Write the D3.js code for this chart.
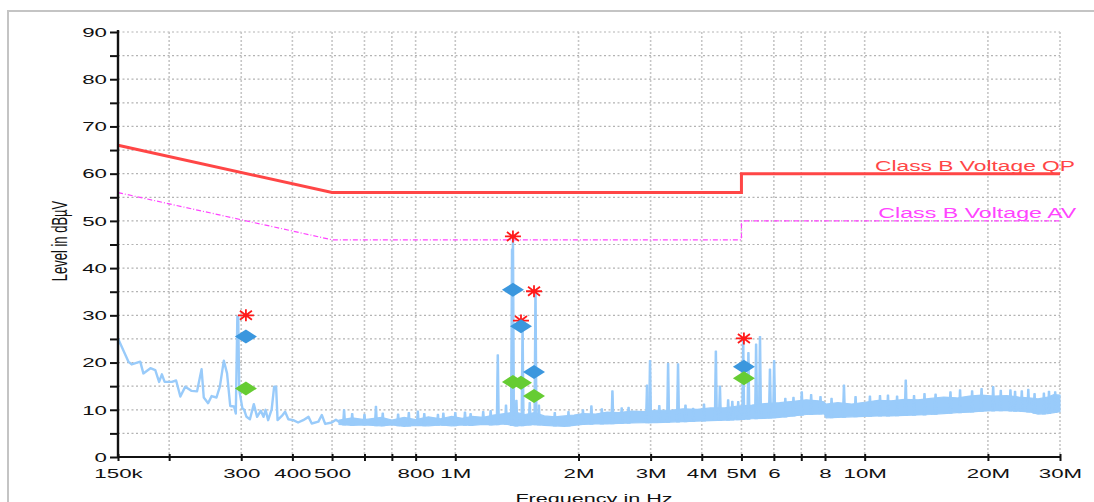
<!DOCTYPE html>
<html>
<head>
<meta charset="utf-8">
<script src="https://cdn.jsdelivr.net/npm/d3@7/dist/d3.min.js"></script>
<style>
  html, body { margin: 0; padding: 0; background: #fff; }
  svg { display: block; font-family: "Liberation Sans", Arial, sans-serif; }
</style>
</head>
<body>
<svg id="chart" width="1094" height="502"></svg>
<script>
// frequencies in MHz, levels in dBuV

// axis ticks
var xTicks = [0.15, 0.2, 0.3, 0.4, 0.5, 0.6, 0.7, 0.8, 1, 2, 3, 4, 5, 6, 7, 8, 10, 20, 30];
var xTickLabels = ['150k', '', '300', '400', '500', '', '', '800', '1M', '2M', '3M', '4M', '5M', '6', '', '8', '10M', '20M', '30M'];
var yTicks = [0, 5, 10, 15, 20, 25, 30, 35, 40, 45, 50, 55, 60, 65, 70, 75, 80, 85, 90];
var yTickLabels = [0, 10, 20, 30, 40, 50, 60, 70, 80, 90];

// limit lines
var qpLimitFreq = [0.15, 0.5, 5, 5, 30];
var qpLimitLevel = [66, 56, 56, 60, 60];
var avLimitFreq = [0.15, 0.5, 5, 5, 30];
var avLimitLevel = [56, 46, 46, 50, 50];

// measured trace below 500k
var lowFreq = [0.150, 0.159, 0.162, 0.170, 0.173, 0.180, 0.185, 0.189, 0.192, 0.195, 0.203, 0.208,
  0.213, 0.219, 0.227, 0.234, 0.240, 0.243, 0.249, 0.254, 0.261, 0.266, 0.272, 0.277, 0.282, 0.288,
  0.291, 0.2935, 0.2950, 0.2966, 0.302, 0.305, 0.309, 0.315, 0.322, 0.328, 0.335, 0.340, 0.344,
  0.349, 0.356, 0.361, 0.365, 0.368, 0.377, 0.384, 0.391, 0.402, 0.413, 0.425, 0.438, 0.446,
  0.463, 0.472, 0.481, 0.499, 0.511, 0.523];
var lowLevel = [25.1, 20.2, 19.6, 20.2, 17.7, 18.8, 18.4, 15.9, 17.5, 15.9, 15.9, 16.2,
  12.8, 14.9, 14.0, 13.9, 18.6, 12.6, 11.4, 12.9, 12.6, 14.9, 20.4, 17.7, 10.8, 10.7,
  9.2, 29.7, 29.6, 14.2, 10.3, 10.0, 8.5, 8.0, 11.2, 8.5, 9.8, 8.5, 10.0,
  7.8, 10.1, 14.9, 14.9, 7.8, 8.7, 9.6, 8.0, 7.8, 7.3, 7.8, 8.5, 7.1,
  7.5, 8.9, 7.0, 7.3, 7.9, 7.3];

// dense noise floor above 500k: lower and upper envelope
var bandFreq = [0.52, 0.56, 0.60, 0.66, 0.70, 0.75, 0.80, 0.86, 0.92, 0.98, 1.04, 1.10, 1.17, 1.24,
  1.32, 1.40, 1.48, 1.56, 1.65, 1.75, 1.85, 1.95, 2.05, 2.20, 2.35, 2.50, 2.70, 2.90, 3.10, 3.35,
  3.60, 3.90, 4.20, 4.55, 4.90, 5.30, 5.70, 6.20, 6.70, 7.20, 7.70, 7.95, 8.05, 8.60, 9.30, 10.0,
  10.8, 11.6, 12.5, 13.5, 14.5, 15.6, 16.8, 18.0, 19.3, 20.7, 22.2, 23.8, 25.5, 26.5, 28.0, 29.0, 30.0];
var bandLow = [6.9, 6.7, 6.8, 6.6, 6.8, 6.5, 6.7, 6.6, 6.8, 6.6, 6.8, 6.7, 6.9, 6.8,
  7.0, 6.6, 6.7, 6.9, 6.7, 6.6, 6.5, 6.7, 6.9, 7.0, 7.0, 7.1, 7.2, 7.3, 7.3, 7.4,
  7.5, 7.6, 7.7, 7.8, 7.9, 8.1, 8.2, 8.4, 8.7, 9.0, 9.1, 9.2, 8.3, 8.4, 8.5, 8.6,
  8.7, 8.7, 8.8, 8.9, 9.0, 9.2, 9.4, 9.5, 9.7, 9.8, 9.8, 9.7, 9.5, 9.1, 9.2, 9.4, 9.6];
var bandHigh = [7.8, 8.3, 7.9, 8.4, 7.8, 8.4, 7.9, 8.5, 8.1, 8.6, 8.2, 8.6, 8.4, 8.9,
  9.2, 9.5, 9.0, 9.4, 8.7, 8.5, 8.7, 8.9, 9.2, 9.1, 9.5, 9.4, 9.7, 9.6, 9.9, 9.9,
  10.2, 10.1, 10.4, 10.4, 10.8, 11.0, 11.3, 11.5, 11.8, 12.1, 11.9, 11.7, 11.2, 11.5, 11.2, 11.6,
  12.0, 11.9, 12.2, 12.1, 12.4, 12.7, 12.5, 12.9, 13.1, 12.9, 13.0, 12.7, 12.5, 12.3, 12.7, 13.2, 13.1];

// narrow peaks sticking out of the noise floor
var spikeFreq = [0.535, 0.56, 0.60, 0.64, 0.665, 0.725, 0.77, 0.81, 0.84, 0.907, 0.935, 1.0, 1.056,
  1.09, 1.17, 1.22, 1.27, 1.33, 1.376, 1.383, 1.41, 1.46, 1.52, 1.57, 1.60,
  1.75, 1.89, 2.05, 2.15, 2.28, 2.42, 2.55, 2.65, 2.94, 2.99, 3.15, 3.31, 3.50, 3.65, 3.81, 4.05,
  4.33, 4.43, 4.64, 4.75, 4.91, 5.05, 5.20, 5.43, 5.55, 5.87, 6.01, 6.40, 6.70, 7.02, 7.40, 7.80,
  8.30, 8.90, 9.50, 10.3, 10.9, 11.4, 12.0, 12.6, 13.2, 14.0, 14.9, 16.2, 17.1, 18.3, 19.3, 20.6,
  21.5, 22.7, 23.3, 24.2, 25.1, 26.0, 27.4, 28.2, 29.2];
var spikeLevel = [10.0, 9.2, 9.0, 10.7, 9.3, 9.1, 9.4, 9.7, 9.2, 9.0, 9.3, 9.4, 9.5,
  9.2, 9.6, 9.8, 21.6, 11.0, 44.0, 46.6, 12.0, 27.5, 11.5, 35.0, 11.0,
  9.4, 9.6, 10.0, 10.8, 10.2, 14.0, 10.4, 10.5, 15.2, 20.4, 10.9, 19.8, 19.7, 11.0, 10.3, 11.2,
  22.4, 15.0, 12.1, 11.8, 11.7, 24.8, 22.1, 23.9, 25.5, 18.6, 20.4, 12.4, 12.6, 13.8, 13.2, 12.8,
  12.4, 15.2, 12.8, 12.9, 13.0, 13.1, 12.9, 16.3, 13.0, 13.4, 13.3, 13.8, 14.2, 14.0, 14.5, 14.9,
  14.1, 14.2, 13.9, 14.0, 14.3, 13.4, 13.5, 13.9, 13.8];

// final measurement markers
var markFreq = [0.308, 1.383, 1.447, 1.557, 5.07];
var peakLevel = [30.0, 46.7, 28.9, 35.1, 25.1];
var qpLevel = [25.5, 35.4, 27.7, 18.0, 19.1];
var avLevel = [14.5, 15.9, 15.7, 12.9, 16.7];

var plotLeft = 118, plotRight = 1060, plotTop = 32, plotBottom = 457;

var svg = d3.select('#chart');

var x = d3.scaleLog().domain([0.15, 30]).range([plotLeft, plotRight]);
var y = d3.scaleLinear().domain([0, 90]).range([plotBottom, plotTop]);

// outer frame
svg.append('path')
  .attr('d', 'M8,502V11H1094')
  .attr('fill', 'none')
  .attr('stroke', '#c4c4c4')
  .attr('stroke-width', 2);

// grid
var grid = svg.append('g');
grid.selectAll('line.h')
  .data(yTicks.filter(function (d) { return d > 0; }))
  .enter().append('line')
  .attr('x1', plotLeft).attr('x2', plotRight)
  .attr('y1', function (d) { return y(d); })
  .attr('y2', function (d) { return y(d); })
  .attr('stroke', '#b3b3b3')
  .attr('stroke-width', 1.2)
  .attr('stroke-dasharray', '2,2.5');
grid.selectAll('line.v')
  .data(xTicks.slice(1))
  .enter().append('line')
  .attr('y1', plotTop).attr('y2', plotBottom)
  .attr('x1', function (d) { return x(d); })
  .attr('x2', function (d) { return x(d); })
  .attr('stroke', '#c6c6c6')
  .attr('stroke-width', 1.6)
  .attr('stroke-dasharray', '2,2');

// limit lines
var limitLine = d3.line()
  .x(function (d) { return x(d[0]); })
  .y(function (d) { return y(d[1]); });

svg.append('path')
  .datum(d3.zip(qpLimitFreq, qpLimitLevel))
  .attr('d', limitLine)
  .attr('fill', 'none')
  .attr('stroke', '#ff4646')
  .attr('stroke-width', 3);

svg.append('path')
  .datum(d3.zip(avLimitFreq, avLimitLevel))
  .attr('d', limitLine)
  .attr('fill', 'none')
  .attr('stroke', '#ff44ff')
  .attr('stroke-width', 1.2)
  .attr('stroke-dasharray', '5,2,1,2');

svg.append('text')
  .attr('x', x(10.6)).attr('y', y(60) - 3)
  .attr('textLength', 200).attr('lengthAdjust', 'spacingAndGlyphs')
  .attr('font-size', 14).attr('fill', '#ff4646')
  .text('Class B Voltage QP');

svg.append('text')
  .attr('x', x(10.8)).attr('y', y(50) - 3)
  .attr('textLength', 198).attr('lengthAdjust', 'spacingAndGlyphs')
  .attr('font-size', 14).attr('fill', '#ff44ff')
  .text('Class B Voltage AV');

// measured trace
var traceColor = '#99cbfa';

svg.append('path')
  .datum(d3.zip(lowFreq, lowLevel))
  .attr('d', limitLine)
  .attr('fill', 'none')
  .attr('stroke', traceColor)
  .attr('stroke-width', 2.4)
  .attr('stroke-linejoin', 'round');

var band = d3.area()
  .x(function (d) { return x(d[0]); })
  .y0(function (d) { return y(d[1]); })
  .y1(function (d) { return y(d[2]); });

svg.append('path')
  .datum(d3.zip(bandFreq, bandLow, bandHigh))
  .attr('d', band)
  .attr('fill', traceColor)
  .attr('stroke', traceColor)
  .attr('stroke-width', 1.2);

var floorAt = d3.scaleLog().domain(bandFreq).range(bandLow).clamp(true);

svg.append('g')
  .selectAll('path')
  .data(d3.zip(spikeFreq, spikeLevel))
  .enter().append('path')
  .attr('d', function (d) {
    var cx = x(d[0]), base = y(floorAt(d[0]));
    return 'M' + (cx - 1.5) + ',' + base + 'L' + (cx - 0.6) + ',' + y(d[1]) +
      'L' + (cx + 0.6) + ',' + y(d[1]) + 'L' + (cx + 1.5) + ',' + base + 'Z';
  })
  .attr('fill', traceColor)
  .attr('stroke', traceColor)
  .attr('stroke-width', 1.3)
  .attr('stroke-linejoin', 'round');

// markers: peak stars, QP and AV diamonds
var marks = svg.append('g');

marks.selectAll('path.star')
  .data(d3.zip(markFreq, peakLevel))
  .enter().append('path')
  .attr('transform', function (d) { return 'translate(' + x(d[0]) + ',' + y(d[1]) + ')'; })
  .attr('d', 'M-8,0H8M0,-6V6M-6,-4.5L6,4.5M-6,4.5L6,-4.5')
  .attr('stroke', '#ff1a1a')
  .attr('stroke-width', 1.8)
  .attr('fill', 'none');

var diamond = 'M-11,0L0,-7L11,0L0,7Z';

marks.selectAll('path.qp')
  .data(d3.zip(markFreq, qpLevel))
  .enter().append('path')
  .attr('transform', function (d) { return 'translate(' + x(d[0]) + ',' + y(d[1]) + ')'; })
  .attr('d', diamond)
  .attr('fill', '#3b97de');

marks.selectAll('path.av')
  .data(d3.zip(markFreq, avLevel))
  .enter().append('path')
  .attr('transform', function (d) { return 'translate(' + x(d[0]) + ',' + y(d[1]) + ')'; })
  .attr('d', diamond)
  .attr('fill', '#66cc33');

// axes
var textScale = 1.65;

var xAxis = svg.append('g')
  .attr('transform', 'translate(0,' + (plotBottom - 3) + ')')
  .call(d3.axisBottom(x)
    .tickValues(xTicks)
    .tickFormat(function (d, i) { return xTickLabels[i]; })
    .tickSizeInner(7)
    .tickSizeOuter(0)
    .tickPadding(7));
xAxis.select('.domain').remove();
xAxis.selectAll('line').attr('stroke', '#111').attr('stroke-width', 2);
xAxis.selectAll('text')
  .attr('font-size', 13.5)
  .attr('font-family', '"Liberation Sans", Arial, sans-serif')
  .attr('fill', '#111')
  .attr('transform', 'scale(' + textScale + ',1)');

var yAxis = svg.append('g')
  .attr('transform', 'translate(' + plotLeft + ',0)')
  .call(d3.axisLeft(y)
    .tickValues(yTicks)
    .tickFormat(function (d) { return yTickLabels.indexOf(d) >= 0 ? d : ''; })
    .tickSizeInner(8)
    .tickSizeOuter(0));
yAxis.select('.domain').remove();
yAxis.selectAll('line').attr('stroke', '#111').attr('stroke-width', 2);
yAxis.selectAll('text')
  .attr('font-size', 13.5)
  .attr('font-family', '"Liberation Sans", Arial, sans-serif')
  .attr('fill', '#111')
  .attr('x', -11 / textScale)
  .attr('transform', 'scale(' + textScale + ',1)');

svg.append('line')
  .attr('x1', plotLeft).attr('x2', plotLeft)
  .attr('y1', plotTop - 2).attr('y2', plotBottom + 1)
  .attr('stroke', '#111').attr('stroke-width', 2.4);
svg.append('line')
  .attr('x1', plotLeft - 1).attr('x2', plotRight)
  .attr('y1', plotBottom).attr('y2', plotBottom)
  .attr('stroke', '#111').attr('stroke-width', 2);

// axis titles
svg.append('text')
  .attr('transform', 'translate(594,503) scale(1.6,1)')
  .attr('text-anchor', 'middle')
  .attr('font-size', 13.5)
  .attr('fill', '#111')
  .text('Frequency in Hz');

svg.append('text')
  .attr('transform', 'translate(67,241) scale(1.7,1) rotate(-90)')
  .attr('text-anchor', 'middle')
  .attr('font-size', 13)
  .attr('fill', '#111')
  .text('Level in dBµV');
</script>
</body>
</html>
